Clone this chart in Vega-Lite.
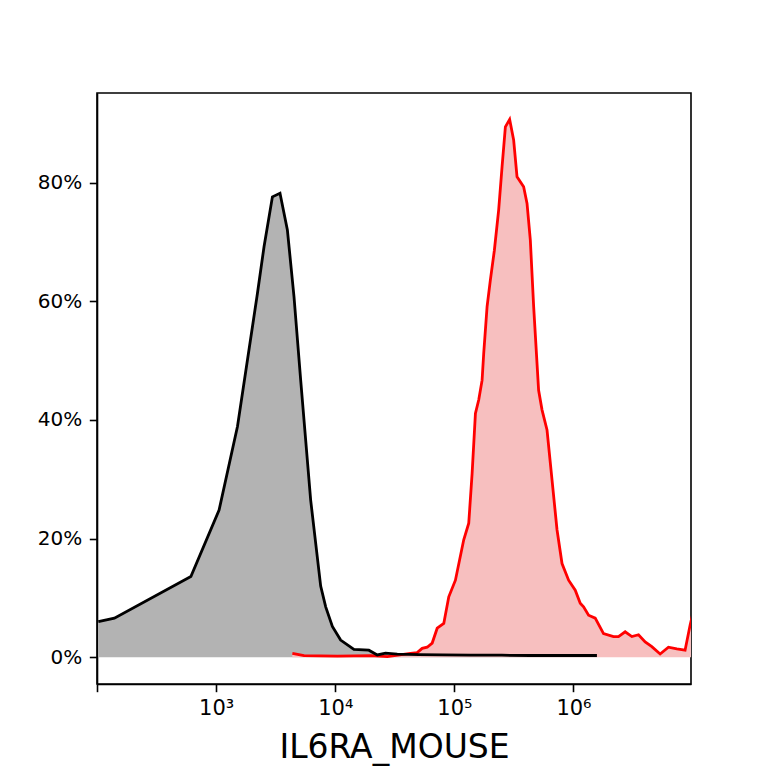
{
  "$schema": "https://vega.github.io/schema/vega-lite/v6.json",
  "width": 594,
  "height": 591,
  "autosize": {"type": "none"},
  "padding": {"left": 97, "top": 93, "right": 77, "bottom": 84},
  "background": "white",
  "config": {
    "view": {"stroke": "black", "strokeWidth": 1.6},
    "axis": {
      "domainColor": "black", "domainWidth": 1.6,
      "tickColor": "black", "tickWidth": 1.6, "tickSize": 7.7,
      "labelFont": "DejaVu Sans", "labelFontSize": 20, "labelColor": "black",
      "titleFont": "DejaVu Sans", "titleFontWeight": "normal", "titleColor": "black",
      "grid": false
    }
  },
  "data": {"values": [
    {"series": "control", "x": 102.6, "y": 0.060},
    {"series": "control", "x": 140, "y": 0.066},
    {"series": "control", "x": 614, "y": 0.136},
    {"series": "control", "x": 1059, "y": 0.248},
    {"series": "control", "x": 1511, "y": 0.389},
    {"series": "control", "x": 2222, "y": 0.613},
    {"series": "control", "x": 2525, "y": 0.692},
    {"series": "control", "x": 2969, "y": 0.776},
    {"series": "control", "x": 3438, "y": 0.782},
    {"series": "control", "x": 3966, "y": 0.720},
    {"series": "control", "x": 4506, "y": 0.608},
    {"series": "control", "x": 5128, "y": 0.467},
    {"series": "control", "x": 6220, "y": 0.265},
    {"series": "control", "x": 7548, "y": 0.120},
    {"series": "control", "x": 8318, "y": 0.085},
    {"series": "control", "x": 9462, "y": 0.052},
    {"series": "control", "x": 11100, "y": 0.029},
    {"series": "control", "x": 14350, "y": 0.0135},
    {"series": "control", "x": 19150, "y": 0.012},
    {"series": "control", "x": 22540, "y": 0.004},
    {"series": "control", "x": 26440, "y": 0.007},
    {"series": "control", "x": 33180, "y": 0.0055},
    {"series": "control", "x": 50000, "y": 0.0045},
    {"series": "control", "x": 80000, "y": 0.004},
    {"series": "control", "x": 136500, "y": 0.0035},
    {"series": "control", "x": 250000, "y": 0.0035},
    {"series": "control", "x": 434700, "y": 0.003},
    {"series": "control", "x": 800000, "y": 0.003},
    {"series": "control", "x": 1574000, "y": 0.003},
    {"series": "sample", "x": 4365, "y": 0.0067},
    {"series": "sample", "x": 5470, "y": 0.0027},
    {"series": "sample", "x": 10420, "y": 0.002},
    {"series": "sample", "x": 19820, "y": 0.0027},
    {"series": "sample", "x": 27350, "y": 0.001},
    {"series": "sample", "x": 42850, "y": 0.0067},
    {"series": "sample", "x": 48760, "y": 0.0078},
    {"series": "sample", "x": 53700, "y": 0.015},
    {"series": "sample", "x": 59160, "y": 0.017},
    {"series": "sample", "x": 65170, "y": 0.024},
    {"series": "sample", "x": 71790, "y": 0.049},
    {"series": "sample", "x": 81520, "y": 0.057},
    {"series": "sample", "x": 89790, "y": 0.102},
    {"series": "sample", "x": 102100, "y": 0.130},
    {"series": "sample", "x": 119900, "y": 0.198},
    {"series": "sample", "x": 132100, "y": 0.226},
    {"series": "sample", "x": 141000, "y": 0.310},
    {"series": "sample", "x": 150300, "y": 0.411},
    {"series": "sample", "x": 160300, "y": 0.434},
    {"series": "sample", "x": 171000, "y": 0.467},
    {"series": "sample", "x": 176400, "y": 0.512},
    {"series": "sample", "x": 188300, "y": 0.591},
    {"series": "sample", "x": 200700, "y": 0.636},
    {"series": "sample", "x": 216800, "y": 0.686},
    {"series": "sample", "x": 235600, "y": 0.754},
    {"series": "sample", "x": 251600, "y": 0.827},
    {"series": "sample", "x": 268200, "y": 0.894},
    {"series": "sample", "x": 291300, "y": 0.9065},
    {"series": "sample", "x": 314600, "y": 0.872},
    {"series": "sample", "x": 335800, "y": 0.810},
    {"series": "sample", "x": 381700, "y": 0.793},
    {"series": "sample", "x": 407600, "y": 0.765},
    {"series": "sample", "x": 434400, "y": 0.703},
    {"series": "sample", "x": 463300, "y": 0.591},
    {"series": "sample", "x": 509900, "y": 0.450},
    {"series": "sample", "x": 544600, "y": 0.417},
    {"series": "sample", "x": 599900, "y": 0.383},
    {"series": "sample", "x": 660700, "y": 0.299},
    {"series": "sample", "x": 727700, "y": 0.215},
    {"series": "sample", "x": 801500, "y": 0.158},
    {"series": "sample", "x": 910500, "y": 0.130},
    {"series": "sample", "x": 1035000, "y": 0.113},
    {"series": "sample", "x": 1140000, "y": 0.091},
    {"series": "sample", "x": 1216000, "y": 0.085},
    {"series": "sample", "x": 1339000, "y": 0.071},
    {"series": "sample", "x": 1523000, "y": 0.066},
    {"series": "sample", "x": 1788000, "y": 0.040},
    {"series": "sample", "x": 2168000, "y": 0.035},
    {"series": "sample", "x": 2388000, "y": 0.035},
    {"series": "sample", "x": 2717000, "y": 0.043},
    {"series": "sample", "x": 3093000, "y": 0.035},
    {"series": "sample", "x": 3517000, "y": 0.038},
    {"series": "sample", "x": 4000000, "y": 0.026},
    {"series": "sample", "x": 4550000, "y": 0.018},
    {"series": "sample", "x": 5340000, "y": 0.0056},
    {"series": "sample", "x": 6270000, "y": 0.017},
    {"series": "sample", "x": 7380000, "y": 0.014},
    {"series": "sample", "x": 8650000, "y": 0.012},
    {"series": "sample", "x": 9530000, "y": 0.054},
    {"series": "sample", "x": 10500000, "y": 0.09}
  ]},
  "encoding": {
    "x": {
      "field": "x", "type": "quantitative",
      "scale": {"type": "log", "domain": [100, 9700000], "nice": false},
      "axis": {
        "title": "IL6RA_MOUSE", "titleFontSize": 33, "titleBaseline": "alphabetic", "titleY": 73,
        "values": [100, 1000, 10000, 100000, 1000000],
        "labelExpr": "datum.value == 1000 ? '10³' : datum.value == 10000 ? '10⁴' : datum.value == 100000 ? '10⁵' : datum.value == 1000000 ? '10⁶' : ''",
        "labelPadding": 6, "labelBaseline": "top", "labelFontSize": 21
      }
    },
    "y": {
      "field": "y", "type": "quantitative", "stack": null,
      "scale": {"domain": [-0.045, 0.951], "nice": false, "zero": false},
      "axis": {"title": null, "values": [0, 0.2, 0.4, 0.6, 0.8], "format": ".0%", "labelPadding": 7.5}
    }
  },
  "layer": [
    {
      "mark": {"type": "area", "clip": true},
      "encoding": {
        "color": {"field": "series", "type": "nominal", "scale": {"domain": ["control", "sample"], "range": ["#b3b3b3", "#f7bfbf"]}, "legend": null}
      }
    },
    {
      "transform": [{"filter": "datum.series == 'sample'"}],
      "mark": {"type": "line", "clip": true, "color": "#ff0000", "strokeWidth": 2.8},
      "encoding": {}
    },
    {
      "transform": [{"filter": "datum.series == 'control'"}],
      "mark": {"type": "line", "clip": true, "color": "black", "strokeWidth": 2.8},
      "encoding": {}
    }
  ]
}
